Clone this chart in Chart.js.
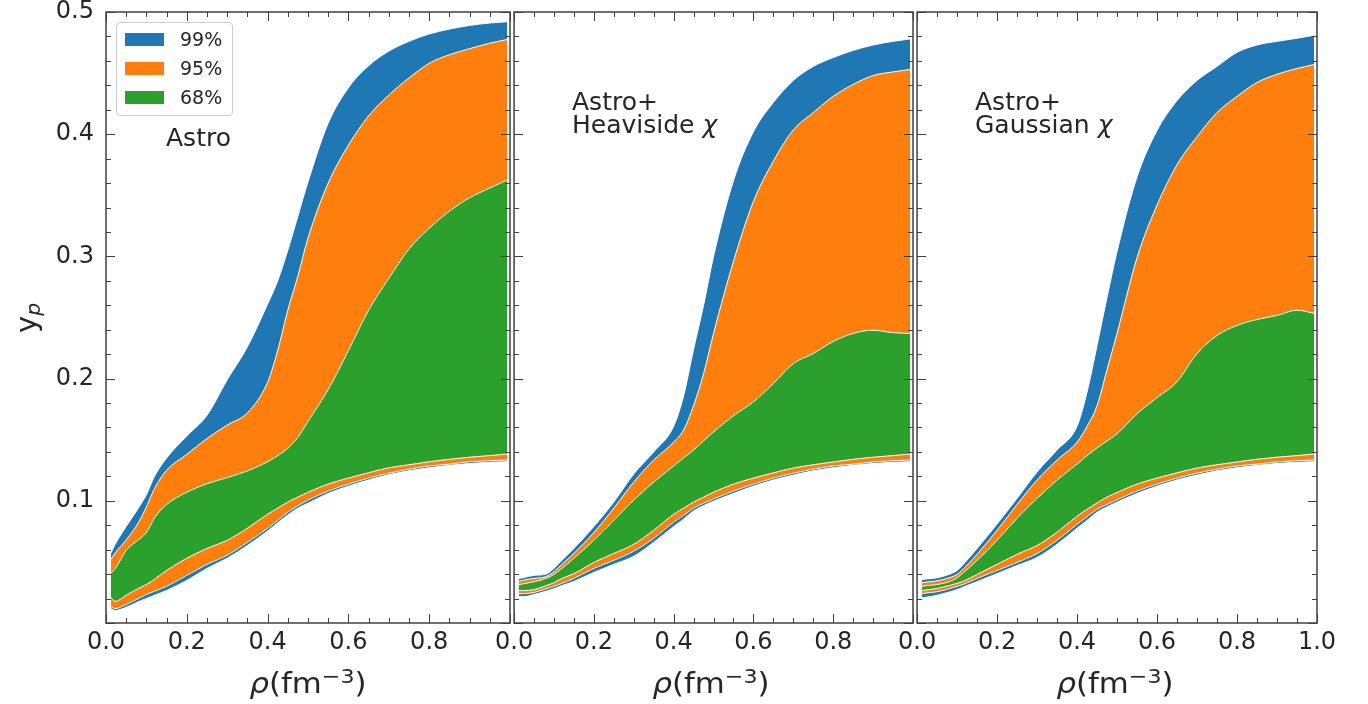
<!DOCTYPE html>
<html>
<head>
<meta charset="utf-8">
<script src="https://cdn.jsdelivr.net/npm/chart.js@4.4.1/dist/chart.umd.min.js"></script>
<style>
  body { margin: 0; background: #fff; font-family: "DejaVu Sans", sans-serif; color: #262626; }
  #wrap { position: relative; width: 1368px; height: 704px; overflow: hidden; }
  canvas { position: absolute; top: -20px; }
  .txt { position: absolute; white-space: nowrap; color: #262626; }
  .note { font-size: 25px; line-height: 23px; }
  .xtitle { font-size: 28px; line-height: 28px; width: 200px; text-align: center; top: 670px; transform: scaleX(1.1); }
  .xtitle sup { font-size: 0.72em; position: relative; top: -0.5em; vertical-align: baseline; line-height: 0; }
  #ytitle { font-size: 29px; line-height: 36px; width: 60px; height: 36px; text-align: center;
            left: -4px; top: 300px; transform: rotate(-90deg); }
  #ytitle sub { font-size: 0.7em; position: relative; top: 0.2em; vertical-align: baseline; }
  #legend { position: absolute; left: 116px; top: 22px; width: 115px; height: 92px;
            border: 1px solid #cccccc; border-radius: 4px; background: rgba(255,255,255,0.8); }
  #legend .sw { position: absolute; left: 8px; width: 39px; height: 13px; }
  #legend .lab { position: absolute; left: 63px; font-size: 19px; line-height: 20px; }
</style>
</head>
<body>
<div id="wrap">
  <canvas id="c1" width="530" height="724" style="left:0px"></canvas>
  <canvas id="c2" width="443" height="724" style="left:490px"></canvas>
  <canvas id="c3" width="460" height="724" style="left:893px"></canvas>

  <div id="legend">
    <span class="sw" style="top:10px;background:#1f77b4"></span><span class="lab" style="top:6px">99%</span>
    <span class="sw" style="top:39px;background:#ff7f0e"></span><span class="lab" style="top:35px">95%</span>
    <span class="sw" style="top:68px;background:#2ca02c"></span><span class="lab" style="top:64px">68%</span>
  </div>

  <div class="txt note" style="left:166px;top:126px">Astro</div>
  <div class="txt note" style="left:572px;top:90px">Astro+<br>Heaviside <i>χ</i></div>
  <div class="txt note" style="left:975px;top:90px">Astro+<br>Gaussian <i>χ</i></div>

  <div class="txt xtitle" style="left:208px"><i>ρ</i>(fm<sup>−3</sup>)</div>
  <div class="txt xtitle" style="left:611px"><i>ρ</i>(fm<sup>−3</sup>)</div>
  <div class="txt xtitle" style="left:1015px"><i>ρ</i>(fm<sup>−3</sup>)</div>
  <div class="txt" id="ytitle">y<sub><i>p</i></sub></div>
</div>

<script>
// density grid (fm^-3), shared by the three panels
const rho = [0.012, 0.022, 0.05, 0.08, 0.1, 0.12, 0.15, 0.2, 0.25, 0.3, 0.35, 0.4, 0.425,
  0.45, 0.475, 0.5, 0.55, 0.6, 0.65, 0.7, 0.75, 0.8, 0.85, 0.9, 0.95, 0.993];

// Astro
const astroHi99 = [0.057, 0.064, 0.079, 0.094, 0.105, 0.120, 0.135, 0.153, 0.170, 0.199, 0.226, 0.261, 0.280,
  0.305, 0.333, 0.361, 0.409, 0.438, 0.456, 0.468, 0.476, 0.482, 0.486, 0.489, 0.491, 0.492];
const astroHi95 = [0.052, 0.057, 0.068, 0.082, 0.095, 0.110, 0.125, 0.138, 0.151, 0.162, 0.172, 0.197, 0.223,
  0.256, 0.284, 0.315, 0.360, 0.391, 0.415, 0.432, 0.446, 0.458, 0.465, 0.470, 0.4745, 0.4775];
const astroHi68 = [0.041, 0.044, 0.0595, 0.068, 0.074, 0.086, 0.097, 0.107, 0.114, 0.119, 0.1245, 0.132, 0.137,
  0.143, 0.152, 0.165, 0.191, 0.223, 0.256, 0.282, 0.306, 0.323, 0.337, 0.348, 0.356, 0.3625];
const astroLo68 = [0.021, 0.0177, 0.0227, 0.0283, 0.0315, 0.0358, 0.043, 0.053, 0.061, 0.0677, 0.0776, 0.089, 0.094,
  0.099, 0.103, 0.107, 0.1137, 0.1186, 0.123, 0.127, 0.1295, 0.132, 0.134, 0.1357, 0.137, 0.1383];
const astroLo95 = [0.0135, 0.0118, 0.0151, 0.020, 0.0233, 0.026, 0.030, 0.039, 0.048, 0.0555, 0.066, 0.0776, 0.084,
  0.0907, 0.096, 0.1006, 0.108, 0.1137, 0.1186, 0.1226, 0.1259, 0.1285, 0.130, 0.132, 0.1328, 0.1334];
const astroLo99 = [0.0118, 0.0102, 0.0128, 0.0174, 0.020, 0.0227, 0.0266, 0.0348, 0.0447, 0.053, 0.0634, 0.0753, 0.082,
  0.0884, 0.094, 0.098, 0.106, 0.112, 0.117, 0.1213, 0.1245, 0.127, 0.129, 0.1305, 0.1315, 0.132];

// Astro + Heaviside chi
const heavHi99 = [0.0365, 0.037, 0.039, 0.040, 0.0447, 0.0513, 0.061, 0.079, 0.099, 0.122, 0.140, 0.161, 0.186,
  0.224, 0.260, 0.300, 0.362, 0.402, 0.426, 0.444, 0.4555, 0.4627, 0.4686, 0.473, 0.476, 0.478];
const heavHi95 = [0.034, 0.035, 0.0365, 0.038, 0.042, 0.048, 0.057, 0.074, 0.094, 0.1153, 0.1334, 0.148, 0.158,
  0.178, 0.204, 0.237, 0.296, 0.345, 0.378, 0.4035, 0.4177, 0.431, 0.4407, 0.448, 0.451, 0.453];
const heavHi68 = [0.0315, 0.032, 0.0338, 0.0365, 0.0398, 0.0447, 0.053, 0.0677, 0.084, 0.1006, 0.1153, 0.1285, 0.135,
  0.1416, 0.149, 0.1564, 0.1696, 0.181, 0.196, 0.2123, 0.2205, 0.2304, 0.237, 0.2396, 0.2376, 0.237];
const heavLo68 = [0.0266, 0.0266, 0.0273, 0.0306, 0.033, 0.0365, 0.0404, 0.0496, 0.0569, 0.0644, 0.0759, 0.089, 0.094,
  0.099, 0.103, 0.107, 0.1137, 0.1186, 0.1229, 0.1268, 0.1295, 0.1318, 0.134, 0.1357, 0.137, 0.1383];
const heavLo95 = [0.024, 0.024, 0.025, 0.028, 0.030, 0.0325, 0.0365, 0.0447, 0.0513, 0.0588, 0.0693, 0.0825, 0.088,
  0.094, 0.098, 0.1015, 0.108, 0.1137, 0.1186, 0.1226, 0.1259, 0.1285, 0.130, 0.1318, 0.1328, 0.1334];
const heavLo99 = [0.0217, 0.0215, 0.0233, 0.026, 0.028, 0.0306, 0.034, 0.0414, 0.048, 0.0546, 0.066, 0.079, 0.085,
  0.0917, 0.096, 0.0996, 0.106, 0.112, 0.117, 0.121, 0.1245, 0.127, 0.129, 0.1305, 0.1315, 0.132];

// Astro + Gaussian chi
const gaussHi99 = [0.0355, 0.036, 0.037, 0.0398, 0.043, 0.0496, 0.061, 0.081, 0.102, 0.1236, 0.1416, 0.161, 0.189,
  0.227, 0.2665, 0.304, 0.365, 0.403, 0.4275, 0.444, 0.4555, 0.467, 0.473, 0.476, 0.4785, 0.481];
const gaussHi95 = [0.033, 0.0335, 0.0345, 0.037, 0.0398, 0.0457, 0.0562, 0.0759, 0.097, 0.117, 0.1334, 0.148, 0.161,
  0.1778, 0.2074, 0.237, 0.299, 0.342, 0.375, 0.398, 0.4177, 0.431, 0.4423, 0.449, 0.4538, 0.457];
const gaussHi68 = [0.030, 0.0305, 0.0315, 0.0338, 0.037, 0.0424, 0.0513, 0.0677, 0.0858, 0.102, 0.117, 0.130, 0.137,
  0.1433, 0.149, 0.1548, 0.1712, 0.1844, 0.1975, 0.2205, 0.2353, 0.2435, 0.2484, 0.2517, 0.256, 0.2534];
const gaussLo68 = [0.0266, 0.027, 0.0283, 0.0306, 0.0325, 0.0348, 0.0398, 0.048, 0.0562, 0.0634, 0.0743, 0.0874, 0.093,
  0.0983, 0.103, 0.1068, 0.1137, 0.1186, 0.1229, 0.1268, 0.1295, 0.1318, 0.134, 0.1357, 0.137, 0.1383];
const gaussLo95 = [0.024, 0.0245, 0.0256, 0.028, 0.030, 0.0322, 0.0365, 0.043, 0.0496, 0.0569, 0.0677, 0.0808, 0.087,
  0.093, 0.097, 0.1009, 0.108, 0.1137, 0.1186, 0.1226, 0.1259, 0.1285, 0.130, 0.1318, 0.1328, 0.1334];
const gaussLo99 = [0.0207, 0.021, 0.0227, 0.0253, 0.0273, 0.030, 0.0338, 0.0404, 0.047, 0.0536, 0.0644, 0.0776, 0.084,
  0.0907, 0.095, 0.0989, 0.106, 0.112, 0.117, 0.121, 0.1245, 0.127, 0.129, 0.1305, 0.1315, 0.132];

const xTickVals = [0, 0.2, 0.4, 0.6, 0.8, 1.0];
const yTickVals = [0.1, 0.2, 0.3, 0.4, 0.5];

const c99 = '#1f77b4', c95 = '#ff7f0e', c68 = '#2ca02c';
const spineColor = '#404040';

Chart.defaults.font.family = '"DejaVu Sans", sans-serif';
Chart.defaults.color = '#262626';

function pts(arr) {
  return arr.map(function(v, i) { return { x: rho[i], y: v }; });
}

// lower edge first, upper edge fills down to it
function bandSets(lo, hi, color) {
  var common = { borderColor: '#ffffff', borderWidth: 1, pointRadius: 0, cubicInterpolationMode: 'monotone' };
  return [
    Object.assign({ data: pts(lo), fill: false }, common),
    Object.assign({ data: pts(hi), fill: '-1', backgroundColor: color }, common)
  ];
}

// inward ticks on all four sides + frame
const frameTicks = {
  id: 'frameTicks',
  afterDraw: function(chart) {
    var ctx = chart.ctx, a = chart.chartArea;
    var xs = chart.scales.x, ys = chart.scales.y;
    ctx.save();
    ctx.strokeStyle = spineColor;
    ctx.lineWidth = 1;
    ctx.beginPath();
    for (var i = 0; i <= 20; i++) {
      var px = Math.round(xs.getPixelForValue(i * 0.05)) + 0.5;
      var len = (i % 4 === 0) ? 9 : 5;
      ctx.moveTo(px, a.bottom); ctx.lineTo(px, a.bottom - len);
      ctx.moveTo(px, a.top); ctx.lineTo(px, a.top + len);
    }
    for (var j = 0; j <= 25; j++) {
      var py = Math.round(ys.getPixelForValue(j * 0.02)) + 0.5;
      var l2 = (j % 5 === 0) ? 9 : 5;
      ctx.moveTo(a.left, py); ctx.lineTo(a.left + l2, py);
      ctx.moveTo(a.right, py); ctx.lineTo(a.right - l2, py);
    }
    ctx.stroke();
    ctx.lineWidth = 1.5;
    ctx.strokeRect(a.left, a.top, a.right - a.left, a.bottom - a.top);
    ctx.restore();
  }
};

function makePanel(id, sets, leftW, rightPad, showY, hideLastX) {
  var datasets = [].concat(
    bandSets(sets.lo68, sets.hi68, c68),
    bandSets(sets.lo95, sets.hi95, c95),
    bandSets(sets.lo99, sets.hi99, c99)
  );
  return new Chart(document.getElementById(id).getContext('2d'), {
    type: 'line',
    data: { datasets: datasets },
    options: {
      responsive: false,
      animation: false,
      devicePixelRatio: 1,
      layout: { padding: { top: 32, right: rightPad, left: 0, bottom: 0 } },
      plugins: { legend: { display: false }, tooltip: { enabled: false }, title: { display: false } },
      scales: {
        x: {
          type: 'linear', min: 0, max: 1,
          grid: { display: false, drawTicks: false },
          border: { display: false },
          afterBuildTicks: function(s) { s.ticks = xTickVals.map(function(v) { return { value: v }; }); },
          afterFit: function(s) { s.height = 81; },
          ticks: {
            autoSkip: false, maxRotation: 0, padding: 5,
            font: { size: 24 },
            callback: function(v) { return (hideLastX && v === 1) ? '' : v.toFixed(1); }
          }
        },
        y: {
          type: 'linear', min: 0, max: 0.5,
          grid: { display: false, drawTicks: false },
          border: { display: false },
          afterBuildTicks: function(s) { s.ticks = yTickVals.map(function(v) { return { value: v }; }); },
          afterFit: function(s) { s.width = leftW; },
          ticks: {
            display: showY, padding: 12,
            font: { size: 24 },
            callback: function(v) { return v.toFixed(1); }
          }
        }
      }
    },
    plugins: [frameTicks]
  });
}

makePanel('c1', { lo99: astroLo99, hi99: astroHi99, lo95: astroLo95, hi95: astroHi95, lo68: astroLo68, hi68: astroHi68 },
  106, 20, true, true);
makePanel('c2', { lo99: heavLo99, hi99: heavHi99, lo95: heavLo95, hi95: heavHi95, lo68: heavLo68, hi68: heavHi68 },
  20, 20, false, true);
makePanel('c3', { lo99: gaussLo99, hi99: gaussHi99, lo95: gaussLo95, hi95: gaussHi95, lo68: gaussLo68, hi68: gaussHi68 },
  20, 36, false, false);
</script>
</body>
</html>
